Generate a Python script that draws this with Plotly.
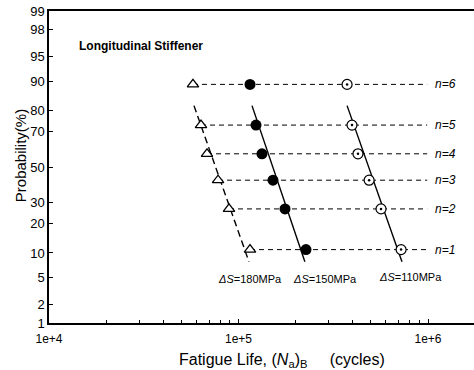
import math
from statistics import NormalDist
import plotly.graph_objects as go

# ---------------- data ----------------
n_labels = ["n=1", "n=2", "n=3", "n=4", "n=5", "n=6"]
prob_pct = [10.9, 26.6, 42.2, 57.8, 73.4, 89.1]
life_180 = [115000, 89100, 78000, 68200, 63400, 57500]
life_150 = [227000, 176000, 152000, 133000, 123700, 115000]
life_110 = [721000, 565000, 489000, 427000, 397000, 374000]

# fitted probability lines (end points: life, probability %)
fit_180_N = [58200, 113500]
fit_150_N = [117800, 224000]
fit_110_N = [374000, 729000]
fit_P = [82.0, 7.9]

h_line_end = 990000  # horizontal guide lines end at this life

y_tick_pct = [1, 2, 5, 10, 20, 30, 50, 70, 80, 90, 95, 98, 99]
x_tick_vals = [1e4, 1e5, 1e6]
x_tick_text = ["1e+4", "1e+5", "1e+6"]

stress_labels = ["<i>ΔS</i>=180MPa", "<i>ΔS</i>=150MPa", "<i>ΔS</i>=110MPa"]
stress_label_N = [115000, 286000, 804000]
stress_label_P = [4.8, 4.8, 5.1]

# ---------------- helpers ----------------
nd = NormalDist()


def z(p):
    return nd.inv_cdf(p / 100.0)


FONT = "Liberation Sans, Arial, sans-serif"

fig = go.Figure()

# horizontal dashed guide lines
hx, hy = [], []
for n0, p in zip(life_180, prob_pct):
    hx += [n0, h_line_end, None]
    hy += [z(p), z(p), None]
fig.add_trace(go.Scatter(x=hx, y=hy, mode="lines",
                         line=dict(color="black", width=1, dash="5px,4px"),
                         hoverinfo="skip", showlegend=False))

# fitted lines
fig.add_trace(go.Scatter(x=fit_180_N, y=[z(p) for p in fit_P], mode="lines",
                         line=dict(color="black", width=1.4, dash="7px,4px"),
                         showlegend=False))
fig.add_trace(go.Scatter(x=fit_150_N, y=[z(p) for p in fit_P], mode="lines",
                         line=dict(color="black", width=1.4), showlegend=False))
fig.add_trace(go.Scatter(x=fit_110_N, y=[z(p) for p in fit_P], mode="lines",
                         line=dict(color="black", width=1.4), showlegend=False))

zs = [z(p) for p in prob_pct]

# markers
fig.add_trace(go.Scatter(x=life_180, y=zs, mode="markers",
                         marker=dict(symbol="triangle-up", size=10, color="white",
                                     line=dict(color="black", width=1.3)),
                         showlegend=False))
fig.add_trace(go.Scatter(x=life_150, y=zs, mode="markers",
                         marker=dict(symbol="circle", size=11, color="black",
                                     line=dict(color="black", width=0)),
                         showlegend=False))
fig.add_trace(go.Scatter(x=life_110, y=zs, mode="markers",
                         marker=dict(symbol="circle", size=10, color="white",
                                     line=dict(color="black", width=1.2)),
                         showlegend=False))
fig.add_trace(go.Scatter(x=life_110, y=zs, mode="markers",
                         marker=dict(symbol="circle", size=2.5, color="black"),
                         showlegend=False))

annotations = []
# n labels
for lab, zz in zip(n_labels, zs):
    annotations.append(dict(x=6.026, y=zz, xref="x", yref="y", text="<i>%s</i>" % lab,
                            showarrow=False, xanchor="left", yanchor="middle",
                            font=dict(family=FONT, size=12, color="black")))
# stress labels
for lab, nn, pp in zip(stress_labels, stress_label_N, stress_label_P):
    annotations.append(dict(x=math.log10(nn), y=z(pp), xref="x", yref="y", text=lab,
                            showarrow=False, xanchor="center", yanchor="middle",
                            font=dict(family=FONT, size=11, color="black")))
annotations.append(dict(x=0.066, y=0.888, xref="paper", yref="paper",
                        text="<b>Longitudinal Stiffener</b>", showarrow=False,
                        xanchor="left", yanchor="middle",
                        font=dict(family=FONT, size=12, color="black")))
annotations.append(dict(x=-0.068, y=0.535, xref="paper", yref="paper",
                        text="Probability(%)", showarrow=False, textangle=-90,
                        xanchor="center", yanchor="middle",
                        font=dict(family=FONT, size=15, color="black")))
annotations.append(dict(x=0.548, y=-0.12, xref="paper", yref="paper",
                        text="Fatigue Life, (<i>N</i><sub>a</sub>)<sub>B</sub>     (cycles)",
                        showarrow=False, xanchor="center", yanchor="middle",
                        font=dict(family=FONT, size=16, color="black")))

minor_x = [k * 10 ** e for e in (4, 5) for k in range(2, 10)] + [2e6]

fig.update_layout(
    width=474, height=370,
    margin=dict(l=49, r=0, t=11, b=47),
    paper_bgcolor="white", plot_bgcolor="white",
    showlegend=False,
    annotations=annotations,
    xaxis=dict(type="log", range=[4, 6.2427], showgrid=False, zeroline=False,
               showline=True, linecolor="black", linewidth=1.5, mirror=True,
               ticks="inside", ticklen=4, tickcolor="black",
               tickvals=x_tick_vals, ticktext=x_tick_text, ticklabelstandoff=4,
               minor=dict(ticks="inside", ticklen=3, tickcolor="black", tickvals=minor_x),
               tickfont=dict(family=FONT, size=12, color="black")),
    yaxis=dict(range=[z(1), z(99)], showgrid=False, zeroline=False,
               showline=True, linecolor="black", linewidth=1.5,
               ticks="inside", ticklen=4, tickcolor="black",
               tickvals=[z(p) for p in y_tick_pct], ticktext=[str(p) for p in y_tick_pct],
               tickfont=dict(family=FONT, size=13, color="black")),
)

fig.write_html("out.html")
